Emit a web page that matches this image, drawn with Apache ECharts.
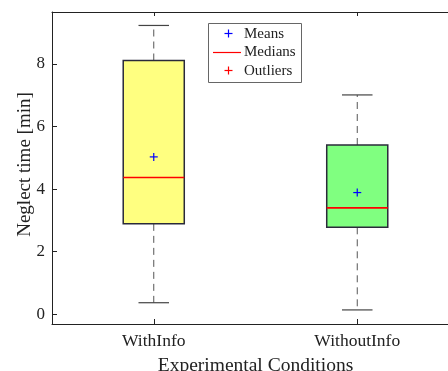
<!DOCTYPE html>
<html>
<head>
<meta charset="utf-8">
<script src="https://cdn.jsdelivr.net/npm/echarts@6/dist/echarts.min.js"></script>
<style>
html,body{margin:0;padding:0;background:#fff;}
#main{width:448px;height:371px;}
</style>
</head>
<body>
<div id="main"></div>
<script>
// ---- data ----
const categories = ['WithInfo', 'WithoutInfo'];
const lowerWhisker = [0.37, 0.14];
const q1 = [2.89, 2.78];
const medians = [4.37, 3.40];
const q3 = [8.11, 5.41];
const upperWhisker = [9.23, 7.01];
const means = [5.03, 3.89];
const boxColors = ['#FFFF80', '#80FF80'];
const yMin = -0.31;
const yMax = 9.66;

const FONT = '"Liberation Serif", "DejaVu Serif", serif';

const chart = echarts.init(document.getElementById('main'), null, {renderer: 'canvas'});

const boxData = categories.map((c, i) => [i, lowerWhisker[i], q1[i], medians[i], q3[i], upperWhisker[i]]);
const meanData = categories.map((c, i) => [i, means[i]]);

function renderBox(params, api) {
  const i = api.value(0);
  const pLo = api.coord([i, api.value(1)]);
  const pQ1 = api.coord([i, api.value(2)]);
  const pMed = api.coord([i, api.value(3)]);
  const pQ3 = api.coord([i, api.value(4)]);
  const pHi = api.coord([i, api.value(5)]);
  const bw = api.size([1, 0])[0] * 0.3;
  const cw = bw * 0.5;
  const cx = pMed[0];
  const dash = {stroke: '#555', lineWidth: 1, lineDash: [7, 5]};
  const cap = {stroke: '#444', lineWidth: 1.2};
  return {
    type: 'group',
    children: [
      {type: 'line', shape: {x1: cx, y1: pQ3[1], x2: cx, y2: pHi[1]}, style: dash},
      {type: 'line', shape: {x1: cx, y1: pQ1[1], x2: cx, y2: pLo[1]}, style: dash},
      {type: 'line', shape: {x1: cx - cw / 2, y1: pHi[1], x2: cx + cw / 2, y2: pHi[1]}, style: cap},
      {type: 'line', shape: {x1: cx - cw / 2, y1: pLo[1], x2: cx + cw / 2, y2: pLo[1]}, style: cap},
      {type: 'rect', shape: {x: cx - bw / 2, y: pQ3[1], width: bw, height: pQ1[1] - pQ3[1]},
        style: {fill: boxColors[i], stroke: '#2a2a3a', lineWidth: 1.5}},
      {type: 'line', shape: {x1: cx - bw / 2, y1: pMed[1], x2: cx + bw / 2, y2: pMed[1]},
        style: {stroke: '#ff0000', lineWidth: 1.6}}
    ]
  };
}

function renderMean(params, api) {
  const p = api.coord([api.value(0), api.value(1)]);
  const s = 4;
  return {
    type: 'group',
    children: [
      {type: 'line', shape: {x1: p[0] - s, y1: p[1], x2: p[0] + s, y2: p[1]}, style: {stroke: '#0000ff', lineWidth: 1.2}},
      {type: 'line', shape: {x1: p[0], y1: p[1] - s, x2: p[0], y2: p[1] + s}, style: {stroke: '#0000ff', lineWidth: 1.2}}
    ]
  };
}

const axisLineStyle = {color: '#222', width: 1};

const option = {
  animation: false,
  backgroundColor: '#fff',
  grid: {left: 52, top: 12, right: -11, bottom: 47, containLabel: false, outerBoundsMode: 'none'},
  xAxis: [
    {
      type: 'category', data: categories, position: 'bottom',
      boundaryGap: true,
      axisLine: {show: true, onZero: false, lineStyle: axisLineStyle},
      axisTick: {show: true, inside: true, alignWithLabel: true, length: 5, lineStyle: axisLineStyle},
      axisLabel: {color: '#222', fontFamily: FONT, fontSize: 17.5, margin: 8},
      name: 'Experimental Conditions', nameLocation: 'middle', nameGap: 32,
      nameTextStyle: {color: '#222', fontFamily: FONT, fontSize: 19.5},
      splitLine: {show: false}
    },
    {
      type: 'category', data: categories, position: 'top',
      boundaryGap: true,
      axisLine: {show: true, onZero: false, lineStyle: axisLineStyle},
      axisTick: {show: true, inside: true, alignWithLabel: true, length: 4, lineStyle: axisLineStyle},
      axisLabel: {show: false},
      splitLine: {show: false}
    }
  ],
  yAxis: {
    type: 'value', min: yMin, max: yMax, splitNumber: 5,
    axisLine: {show: true, onZero: false, lineStyle: axisLineStyle},
    axisTick: {show: true, inside: true, length: 5, lineStyle: axisLineStyle},
    axisLabel: {color: '#222', fontFamily: FONT, fontSize: 17, margin: 7, showMinLabel: false, showMaxLabel: false},
    splitLine: {show: false},
    name: 'Neglect time [min]', nameLocation: 'middle', nameGap: 17, nameMoveOverlap: false,
    nameTextStyle: {color: '#222', fontFamily: FONT, fontSize: 19, padding: [0, 0, 0, 7]}
  },
  series: [
    {type: 'custom', name: 'Boxes', xAxisIndex: 0, renderItem: renderBox, data: boxData,
      encode: {x: 0, y: [1, 2, 3, 4, 5]}, clip: false},
    {type: 'custom', name: 'Means', xAxisIndex: 0, renderItem: renderMean, data: meanData,
      encode: {x: 0, y: 1}, z: 5}
  ],
  graphic: [
    {type: 'rect', shape: {x: 208.5, y: 23.5, width: 93, height: 59},
      style: {fill: '#fff', stroke: '#666', lineWidth: 1}, z: 100},
    {type: 'line', shape: {x1: 224.5, y1: 33.5, x2: 232.5, y2: 33.5}, style: {stroke: '#0000ff', lineWidth: 1.2}, z: 101},
    {type: 'line', shape: {x1: 228.5, y1: 29.5, x2: 228.5, y2: 37.5}, style: {stroke: '#0000ff', lineWidth: 1.2}, z: 101},
    {type: 'text', x: 244, y: 34, style: {text: 'Means', fontFamily: FONT, fontSize: 15, fill: '#222', verticalAlign: 'middle'}, z: 101},
    {type: 'line', shape: {x1: 213, y1: 52.5, x2: 241, y2: 52.5}, style: {stroke: '#ff0000', lineWidth: 1.2}, z: 101},
    {type: 'text', x: 244, y: 52.5, style: {text: 'Medians', fontFamily: FONT, fontSize: 15, fill: '#222', verticalAlign: 'middle'}, z: 101},
    {type: 'line', shape: {x1: 224.5, y1: 70.5, x2: 232.5, y2: 70.5}, style: {stroke: '#ff0000', lineWidth: 1.2}, z: 101},
    {type: 'line', shape: {x1: 228.5, y1: 66.5, x2: 228.5, y2: 74.5}, style: {stroke: '#ff0000', lineWidth: 1.2}, z: 101},
    {type: 'text', x: 244, y: 71, style: {text: 'Outliers', fontFamily: FONT, fontSize: 15, fill: '#222', verticalAlign: 'middle'}, z: 101}
  ]
};

chart.setOption(option);
</script>
</body>
</html>
